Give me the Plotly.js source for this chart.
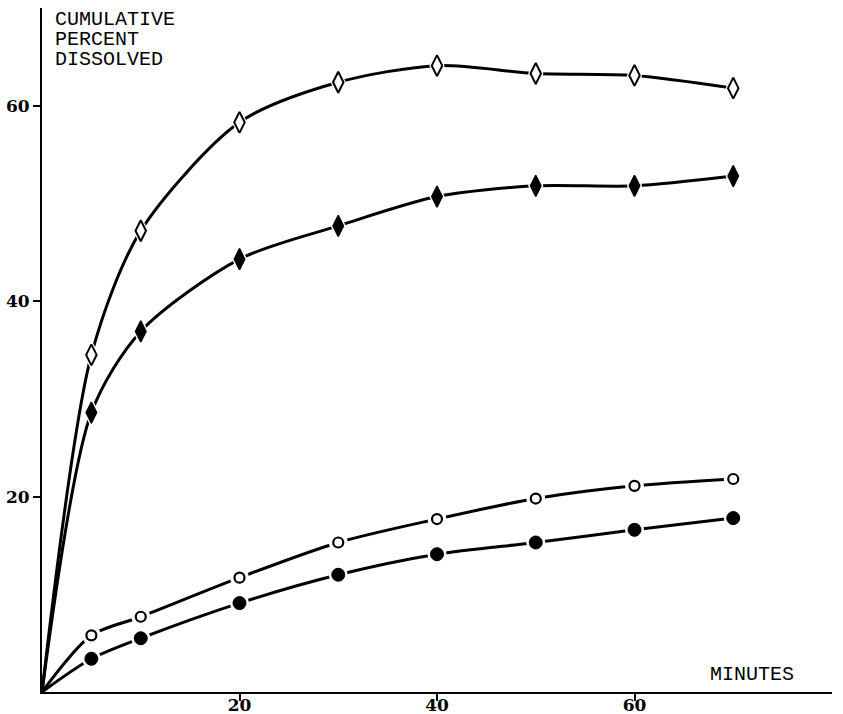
<!DOCTYPE html>
<html>
<head>
<meta charset="utf-8">
<script src="https://cdn.plot.ly/plotly-3.0.1.min.js"></script>
<style>html,body{margin:0;padding:0;background:#fff;}#chart{width:843px;height:714px;}</style>
</head>
<body>
<div id="chart"></div>
<script>
var minutes = [5, 10, 20, 30, 40, 50, 60, 70];
var openDiamond = [34.5, 47.2, 58.3, 62.4, 64.1, 63.3, 63.1, 61.8];
var filledDiamond = [28.6, 36.9, 44.3, 47.7, 50.7, 51.8, 51.8, 52.8];
var openCircle = [5.8, 7.7, 11.7, 15.3, 17.7, 19.8, 21.1, 21.8];
var filledCircle = [3.4, 5.5, 9.1, 12.0, 14.1, 15.3, 16.6, 17.8];
var xTicks = [20, 40, 60];
var yTicks = [20, 40, 60];

var series = [
  {y: openDiamond, symbol: 'diamond-tall-open', size: 15, gap: 'diamond-tall', gapSize: 22, lw: 2},
  {y: filledDiamond, symbol: 'diamond-tall', size: 15, gap: 'diamond-tall', gapSize: 22, lw: 1.5},
  {y: openCircle, symbol: 'circle-open', size: 10, gap: 'circle', gapSize: 19, lw: 2.2},
  {y: filledCircle, symbol: 'circle', size: 13, gap: 'circle', gapSize: 19, lw: 1}
];

var traces = [];
series.forEach(function (s) {
  traces.push({
    x: [0].concat(minutes), y: [0].concat(s.y),
    mode: 'lines', line: {color: '#000', width: 3, shape: 'spline', smoothing: 0.8},
    hoverinfo: 'skip', showlegend: false
  });
});
series.forEach(function (s) {
  traces.push({
    x: minutes, y: s.y, mode: 'markers',
    marker: {symbol: s.gap, size: s.gapSize, color: '#fff', line: {width: 0}},
    hoverinfo: 'skip', showlegend: false
  });
});
series.forEach(function (s) {
  traces.push({
    x: minutes, y: s.y, mode: 'markers',
    marker: {symbol: s.symbol, size: s.size, color: '#000', line: {color: '#000', width: s.lw}},
    showlegend: false
  });
});

var monoFont = {family: '"Courier New", "Liberation Mono", monospace', size: 20, color: '#000'};
var tickFont = {family: '"DejaVu Serif", serif', size: 17, color: '#000', weight: 'bold'};

var layout = {
  width: 843, height: 714,
  margin: {l: 42, r: 11, t: 8, b: 22},
  paper_bgcolor: '#fff', plot_bgcolor: '#fff',
  showlegend: false,
  xaxis: {
    range: [0, 80], showgrid: false, zeroline: false,
    showline: true, linecolor: '#000', linewidth: 2,
    tickmode: 'array', tickvals: xTicks, ticktext: xTicks.map(String),
    ticks: 'outside', ticklen: 7, tickwidth: 2, tickcolor: '#000',
    ticklabelstandoff: -10,
    tickfont: tickFont
  },
  yaxis: {
    range: [0, 70], showgrid: false, zeroline: false,
    showline: true, linecolor: '#000', linewidth: 2,
    tickmode: 'array', tickvals: yTicks, ticktext: yTicks.map(String),
    ticks: 'outside', ticklen: 7, tickwidth: 2, tickcolor: '#000',
    tickfont: tickFont
  },
  annotations: [
    {text: 'CUMULATIVE', xref: 'paper', yref: 'paper', x: 0.0137, y: 0.9835, xanchor: 'left', yanchor: 'middle', showarrow: false, font: monoFont},
    {text: 'PERCENT', xref: 'paper', yref: 'paper', x: 0.0137, y: 0.9543, xanchor: 'left', yanchor: 'middle', showarrow: false, font: monoFont},
    {text: 'DISSOLVED', xref: 'paper', yref: 'paper', x: 0.0137, y: 0.9251, xanchor: 'left', yanchor: 'middle', showarrow: false, font: monoFont},
    {text: 'MINUTES', xref: 'paper', yref: 'paper', x: 0.955, y: 0.025, xanchor: 'right', yanchor: 'middle', showarrow: false, font: monoFont}
  ]
};

Plotly.newPlot('chart', traces, layout, {displayModeBar: false, staticPlot: true});
</script>
</body>
</html>
